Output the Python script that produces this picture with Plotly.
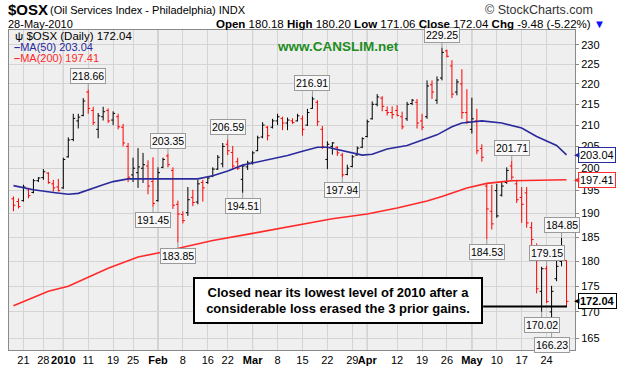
import math
import plotly.graph_objects as go

# ---------------- data ----------------
dates = [
    "2009-12-17", "2009-12-18", "2009-12-21", "2009-12-22", "2009-12-23", "2009-12-24",
    "2009-12-28", "2009-12-29", "2009-12-30", "2009-12-31",
    "2010-01-04", "2010-01-05", "2010-01-06", "2010-01-07", "2010-01-08",
    "2010-01-11", "2010-01-12", "2010-01-13", "2010-01-14", "2010-01-15",
    "2010-01-19", "2010-01-20", "2010-01-21", "2010-01-22",
    "2010-01-25", "2010-01-26", "2010-01-27", "2010-01-28", "2010-01-29",
    "2010-02-01", "2010-02-02", "2010-02-03", "2010-02-04", "2010-02-05",
    "2010-02-08", "2010-02-09", "2010-02-10", "2010-02-11", "2010-02-12",
    "2010-02-16", "2010-02-17", "2010-02-18", "2010-02-19",
    "2010-02-22", "2010-02-23", "2010-02-24", "2010-02-25", "2010-02-26",
    "2010-03-01", "2010-03-02", "2010-03-03", "2010-03-04", "2010-03-05",
    "2010-03-08", "2010-03-09", "2010-03-10", "2010-03-11", "2010-03-12",
    "2010-03-15", "2010-03-16", "2010-03-17", "2010-03-18", "2010-03-19",
    "2010-03-22", "2010-03-23", "2010-03-24", "2010-03-25", "2010-03-26",
    "2010-03-29", "2010-03-30", "2010-03-31", "2010-04-01",
    "2010-04-05", "2010-04-06", "2010-04-07", "2010-04-08", "2010-04-09",
    "2010-04-12", "2010-04-13", "2010-04-14", "2010-04-15", "2010-04-16",
    "2010-04-19", "2010-04-20", "2010-04-21", "2010-04-22", "2010-04-23",
    "2010-04-26", "2010-04-27", "2010-04-28", "2010-04-29", "2010-04-30",
    "2010-05-03", "2010-05-04", "2010-05-05", "2010-05-06", "2010-05-07",
    "2010-05-10", "2010-05-11", "2010-05-12", "2010-05-13", "2010-05-14",
    "2010-05-17", "2010-05-18", "2010-05-19", "2010-05-20", "2010-05-21",
    "2010-05-24", "2010-05-25", "2010-05-26", "2010-05-27", "2010-05-28",
]

opens = [
    193.2, 192.6, 192.8, 195.4, 194.6, 197.2, 197.9, 198.9, 196.5, 195.8,
    195.6, 202.6, 206.6, 211.0, 212.3, 218.0, 213.5, 209.0, 212.0, 213.5,
    211.2, 212.0, 209.5, 205.0, 198.5, 199.0, 200.0, 200.5, 197.0,
    192.8, 200.2, 202.8, 199.5, 192.0, 189.8, 190.2, 193.5, 192.5, 196.8,
    196.8, 198.2, 199.8, 201.0, 205.5, 203.6, 201.5, 197.5, 200.3,
    201.4, 204.0, 207.2, 209.5, 209.5, 211.0, 211.6, 210.5, 211.0, 211.0,
    211.5, 210.0, 214.0, 215.5, 209.0, 202.0, 205.0, 204.8, 203.0, 198.6,
    200.4, 203.0, 204.8, 207.3, 211.5, 215.0, 216.5, 213.5, 213.0,
    213.5, 212.0, 211.5, 215.2, 215.5, 211.0, 212.0, 219.8, 216.0, 221.5,
    228.4, 224.5, 218.0, 220.0, 213.0, 209.0, 211.0, 204.5, 196.0, 190.5,
    195.0, 194.0, 196.8, 200.5, 196.5, 193.5, 194.5, 187.0, 182.5, 174.0,
    178.5, 170.0, 176.5, 180.0, 180.18,
]
highs = [
    193.7, 193.3, 196.3, 195.6, 197.6, 198.0, 199.8, 199.1, 197.4, 197.6,
    202.4, 207.1, 212.7, 212.7, 216.5, 218.66, 214.4, 212.9, 214.4, 214.0,
    213.3, 212.7, 210.3, 205.8, 202.4, 204.6, 203.5, 201.8, 202.5,
    200.2, 202.4, 203.35, 200.2, 192.8, 190.5, 195.8, 195.2, 197.4, 197.4,
    198.0, 200.2, 203.0, 205.8, 206.59, 205.1, 202.4, 200.8, 201.7,
    203.9, 207.5, 210.7, 209.8, 211.5, 212.7, 212.0, 211.8, 211.6, 212.7,
    212.3, 213.9, 216.91, 216.0, 209.8, 206.2, 206.0, 205.0, 203.5, 200.8,
    203.0, 205.0, 207.1, 211.3, 215.7, 217.5, 217.0, 214.5, 214.5,
    214.8, 213.2, 215.6, 216.3, 216.3, 212.7, 220.9, 220.9, 221.9, 229.25,
    228.7, 226.0, 221.2, 223.7, 218.7, 216.6, 213.9, 205.5, 196.7, 196.3,
    196.5, 196.9, 200.2, 201.71, 197.4, 195.8, 195.8, 188.2, 183.7, 178.9,
    179.15, 175.1, 181.3, 184.85, 180.20,
]
lows = [
    190.5, 191.1, 192.6, 193.3, 194.4, 196.9, 197.4, 196.5, 194.8, 194.8,
    195.4, 202.4, 206.2, 209.2, 212.1, 212.7, 210.0, 206.9, 211.1, 210.5,
    210.0, 209.0, 205.0, 196.9, 196.9, 195.6, 196.7, 194.2, 191.45,
    192.6, 200.0, 200.2, 191.0, 183.85, 187.9, 189.5, 191.6, 192.0, 192.6,
    196.5, 198.0, 199.6, 200.2, 203.0, 199.8, 199.6, 194.51, 199.6,
    200.8, 203.9, 206.9, 206.4, 209.2, 210.0, 208.8, 208.8, 210.3, 210.9,
    207.5, 209.8, 213.9, 209.8, 204.4, 199.8, 203.1, 202.8, 197.94, 198.4,
    200.2, 202.9, 204.6, 207.1, 211.3, 214.5, 213.3, 212.3, 211.5,
    212.1, 209.0, 211.0, 214.8, 209.2, 208.8, 211.5, 216.3, 215.1, 220.9,
    226.7, 216.5, 217.2, 211.5, 210.3, 208.0, 203.2, 201.5, 184.53, 186.6,
    189.1, 193.7, 196.5, 197.4, 192.3, 188.0, 187.0, 183.3, 173.6, 170.02,
    171.7, 166.23, 176.0, 179.0, 171.06,
]
closes = [
    191.8, 191.5, 195.8, 193.9, 197.2, 197.8, 199.2, 196.8, 195.6, 195.0,
    202.0, 206.5, 211.6, 211.9, 215.8, 214.0, 210.6, 212.2, 213.2, 211.0,
    212.8, 209.6, 205.8, 198.0, 200.0, 200.3, 200.8, 196.0, 192.2,
    199.0, 202.0, 200.8, 191.8, 189.9, 188.5, 193.0, 192.4, 196.5, 195.6,
    197.8, 199.8, 202.5, 205.0, 204.0, 200.5, 200.0, 200.5, 201.2,
    203.5, 207.0, 210.0, 207.5, 211.0, 212.0, 210.5, 211.2, 210.6, 212.2,
    209.0, 213.0, 216.3, 210.8, 205.0, 205.5, 205.8, 203.5, 198.5, 200.0,
    202.6, 204.6, 206.8, 210.8, 215.0, 216.8, 214.5, 213.0, 212.5,
    212.3, 209.6, 215.0, 216.0, 210.5, 209.5, 219.5, 218.0, 221.0, 228.0,
    227.0, 217.5, 220.5, 213.0, 210.8, 211.5, 204.0, 202.5, 191.0, 187.8,
    189.5, 196.0, 199.5, 198.0, 193.0, 192.0, 188.0, 184.5, 174.5, 178.5,
    172.0, 174.0, 179.0, 181.52, 172.04,
]
prior_close = 193.5

ma50_idx = [0, 4, 8, 11, 13, 15, 18, 20, 23, 28, 37, 40, 43, 46, 50, 55, 58, 61, 63,
            66, 70, 72, 75, 79, 82, 85, 88, 90, 94, 98, 102, 105, 109, 111]
ma50_val = [196.1, 195.2, 194.6, 194.2, 194.4, 195.2, 196.3, 197.0, 197.6, 197.6,
            197.6, 198.3, 199.4, 200.7, 201.6, 202.9, 203.9, 204.8, 204.8,
            204.1, 203.0, 203.2, 204.4, 205.2, 206.4, 207.7, 209.6, 210.5, 211.0,
            210.5, 209.3, 207.3, 205.2, 203.04]
ma200_idx = [0, 2, 7, 11, 19, 25, 30, 34, 40, 48, 54, 60, 64, 71, 77, 83, 86, 91, 95,
             100, 105, 111]
ma200_val = [171.2, 172.0, 174.0, 175.0, 178.6, 180.9, 181.9, 182.9, 184.3, 185.8,
             187.0, 188.2, 188.9, 189.9, 191.2, 192.7, 193.7, 195.6, 196.6,
             197.2, 197.35, 197.41]

tick_dates = ["2009-12-21", "2009-12-28", "2010-01-04", "2010-01-11", "2010-01-19",
              "2010-01-25", "2010-02-01", "2010-02-08", "2010-02-16", "2010-02-22",
              "2010-03-01", "2010-03-08", "2010-03-15", "2010-03-22", "2010-03-29",
              "2010-04-01", "2010-04-12", "2010-04-19", "2010-04-26", "2010-05-03",
              "2010-05-10", "2010-05-17", "2010-05-24"]
tick_text = ["21", "28", "<b>2010</b>", "11", "19", "25", "<b>Feb</b>", "8", "16", "22",
             "<b>Mar</b>", "8", "15", "22", "29", "<b>Apr</b>", "12", "19", "26",
             "<b>May</b>", "10", "17", "24"]
month_dates = ["2010-01-04", "2010-02-01", "2010-03-01", "2010-04-01", "2010-05-03"]
y_ticks = [165, 170, 175, 180, 185, 190, 195, 200, 205, 210, 215, 220, 225, 230]

label_idx = [15, 31, 43, 60, 86, 100, 107, 110, 28, 33, 46, 66, 95, 106, 108]
label_kind = ["H", "H", "H", "H", "H", "H", "H", "H", "L", "L", "L", "L", "L", "L", "L"]

note_text = ("Closed near its lowest level of 2010 after a<br>"
             "considerable loss erased the 3 prior gains.")

# ---------------- figure ----------------
FONT = "Liberation Sans, Arial, sans-serif"
Y_MIN, Y_MAX = 162.83, 233.85

prev = [prior_close] + closes[:-1]
up = [c >= p for c, p in zip(closes, prev)]

fig = go.Figure()

for flag, col in ((True, "#000000"), (False, "#ff0000")):
    sel = [k for k in range(len(dates)) if up[k] == flag]
    fig.add_trace(go.Ohlc(
        x=[dates[k] for k in sel],
        open=[opens[k] for k in sel],
        high=[highs[k] for k in sel],
        low=[lows[k] for k in sel],
        close=[closes[k] for k in sel],
        increasing=dict(line=dict(color=col, width=1)),
        decreasing=dict(line=dict(color=col, width=1)),
        tickwidth=0.4, showlegend=False, hoverinfo="skip",
    ))

fig.add_trace(go.Scatter(x=[dates[k] for k in ma50_idx], y=ma50_val, mode="lines",
                         line=dict(color="#2a2a9c", width=1.6), hoverinfo="skip",
                         showlegend=False))
fig.add_trace(go.Scatter(x=[dates[k] for k in ma200_idx], y=ma200_val, mode="lines",
                         line=dict(color="#ff2a2a", width=1.6), hoverinfo="skip",
                         showlegend=False))

fig.update_layout(
    width=617, height=374,
    margin=dict(l=8, r=42, t=30, b=17),
    paper_bgcolor="white", plot_bgcolor="#efefef",
    font=dict(family=FONT, size=11, color="black"),
    showlegend=False,
)
fig.update_xaxes(
    type="category", categoryorder="array", categoryarray=dates,
    range=[-0.9, 112.7], tickmode="array", tickvals=tick_dates, ticktext=tick_text,
    showgrid=True, gridcolor="#d4d4d4", gridwidth=1,
    showline=True, linecolor="#8a8a8a", linewidth=1, mirror=True,
    ticks="", rangeslider=dict(visible=False), tickfont=dict(size=11, color="black"),
    tickangle=0,
)
fig.update_yaxes(
    type="log", range=[math.log10(Y_MIN), math.log10(Y_MAX)], side="right",
    tickmode="array", tickvals=y_ticks, ticktext=[str(v) for v in y_ticks],
    showgrid=True, gridcolor="#d4d4d4", gridwidth=1,
    showline=True, linecolor="#8a8a8a", linewidth=1, mirror=True,
    ticks="outside", ticklen=3, tickcolor="#8a8a8a",
    tickfont=dict(size=11, color="black"),
)

# darker month separators
for d in month_dates:
    k = dates.index(d)
    fig.add_shape(type="line", xref="x", yref="paper", x0=k, x1=k, y0=0, y1=1,
                  line=dict(color="#b0b0b0", width=1), layer="below")

# pivot labels
for k, kind in zip(label_idx, label_kind):
    v = highs[k] if kind == "H" else lows[k]
    fig.add_annotation(
        x=dates[k], y=math.log10(v), xref="x", yref="y", text=f"{v:.2f}",
        showarrow=True, arrowhead=0, arrowwidth=1, arrowcolor="#9a9a9a",
        ax=0, ay=-13 if kind == "H" else 13,
        bgcolor="#f8f8f8", bordercolor="#9a9a9a", borderwidth=1, borderpad=1,
        font=dict(size=10.5, color="black", family=FONT),
    )

PX_L, PX_W = 8, 567
def xpaper(px):
    return (px - PX_L) / PX_W

def ypaper(py):
    return (357 - py) / 327

# right-hand value flags (box + small pointer)
for v, col, bold in ((ma50_val[-1], "#2a2a9c", False),
                     (ma200_val[-1], "#ff2a2a", False),
                     (closes[-1], "#000000", True)):
    txt = f"{v:.2f}"
    fig.add_annotation(
        x=1.0, y=math.log10(v), xref="paper", yref="y", xshift=3,
        text=f"<b>{txt}</b>" if bold else txt, showarrow=False,
        xanchor="left", yanchor="middle",
        bgcolor="white", bordercolor=col, borderwidth=1, borderpad=1,
        font=dict(size=11, color="black", family=FONT),
    )
    fig.add_annotation(
        x=1.0, y=math.log10(v), xref="paper", yref="y", xshift=-3,
        text="\u25c0", showarrow=False, xanchor="left", yanchor="middle",
        font=dict(size=7, color=col, family="DejaVu Sans"),
    )

# connector line from note box to last bar
fig.add_shape(type="line", xref="paper", yref="y", x0=xpaper(483), x1=xpaper(567),
              y0=lows[-1], y1=lows[-1], line=dict(color="black", width=2))

# note box
fig.add_annotation(
    x=xpaper(338), y=ypaper(306.5), xref="paper", yref="paper",
    text=f"<b>{note_text}</b>", showarrow=False, align="center",
    width=286, height=43, bgcolor="white", bordercolor="black", borderwidth=2,
    borderpad=0, font=dict(size=13, color="black", family=FONT),
    xanchor="center", yanchor="middle",
)

# in-chart legend
fig.add_annotation(x=xpaper(12), y=ypaper(36), xref="paper", yref="paper",
                   text=f"\u03c8 $OSX (Daily) {closes[-1]:.2f}", showarrow=False,
                   xanchor="left", yanchor="middle",
                   font=dict(size=11.5, color="black", family=FONT))
fig.add_annotation(x=xpaper(11), y=ypaper(47.5), xref="paper", yref="paper",
                   text=f"<b>\u2013</b>MA(50) {ma50_val[-1]:.2f}", showarrow=False,
                   xanchor="left", yanchor="middle",
                   font=dict(size=11, color="#2a2a9c", family=FONT))
fig.add_annotation(x=xpaper(11), y=ypaper(59), xref="paper", yref="paper",
                   text=f"<b>\u2013</b>MA(200) {ma200_val[-1]:.2f}", showarrow=False,
                   xanchor="left", yanchor="middle",
                   font=dict(size=11, color="#ff2a2a", family=FONT))
fig.add_annotation(x=xpaper(338), y=ypaper(47), xref="paper", yref="paper",
                   text="<b>www.CANSLIM.net</b>", showarrow=False,
                   xanchor="center", yanchor="middle",
                   font=dict(size=13.5, color="#1e8c1e", family=FONT))

# header (title line + copyright as one paper-anchored row)
fig.add_annotation(x=xpaper(5), y=ypaper(9), xref="paper", yref="paper",
                   text="<b>$OSX</b>", showarrow=False, xanchor="left", yanchor="middle",
                   font=dict(size=15, color="black", family=FONT))
fig.add_annotation(x=xpaper(47), y=ypaper(10), xref="paper", yref="paper",
                   text="(Oil Services Index - Philadelphia) INDX", showarrow=False,
                   xanchor="left", yanchor="middle",
                   font=dict(size=11, color="black", family=FONT))
fig.add_annotation(x=xpaper(483), y=ypaper(10), xref="paper", yref="paper",
                   text="\u00a9 StockCharts.com", showarrow=False,
                   xanchor="left", yanchor="middle",
                   font=dict(size=12.5, color="#333333", family=FONT))
fig.add_annotation(x=xpaper(5), y=ypaper(24), xref="paper", yref="paper",
                   text="28-May-2010", showarrow=False, xanchor="left", yanchor="middle",
                   font=dict(size=11, color="black", family=FONT))
chg = closes[-1] - closes[-2]
pct = chg / closes[-2] * 100
fig.add_annotation(
    x=xpaper(607), y=ypaper(24), xref="paper", yref="paper",
    text=(f"<b>Open</b> {opens[-1]:.2f} <b>High</b> {highs[-1]:.2f} "
          f"<b>Low</b> {lows[-1]:.2f} <b>Close</b> {closes[-1]:.2f} "
          f"<b>Chg</b> {chg:.2f} ({pct:.2f}%) "
          f"<span style='color:#1010ff'>\u25bc</span>"),
    showarrow=False, xanchor="right", yanchor="middle",
    font=dict(size=11.5, color="black", family=FONT))

fig.write_html("out.html",
               config={"displayModeBar": False},
               post_script="document.body.style.margin='0px';"
                           "document.body.style.overflow='hidden';")
